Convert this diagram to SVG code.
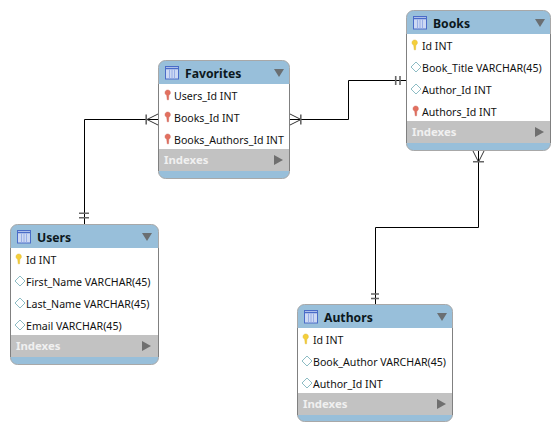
<svg xmlns="http://www.w3.org/2000/svg" width="560" height="432" viewBox="0 0 560 432">
<style>
text{font-family:"Noto Sans","DejaVu Sans",sans-serif}
.frame{fill:#98bfda;stroke:#a8a8a8;stroke-width:1}
.body{fill:#fff}
.idx{fill:#c2c2c2}
.side{stroke:#808080;stroke-width:1;fill:none}
.title{font-size:12.2px;font-weight:700;fill:#0c1820}
.row{font-size:10.6px;fill:#111}
.ix{font-size:11.4px;font-weight:700;fill:#f0f0f0}
.tri{fill:#6a6f72}
.tri2{fill:#6f6f6f}
.wire{fill:none;stroke:#000;stroke-width:1}
.bar{fill:none;stroke:#666;stroke-width:1.6}
.crow{fill:none;stroke:#333;stroke-width:1}
</style>
<defs>
<g id="tblicon"><rect x="0.500" y="0.500" width="13" height="12.500" fill="#cdd9f3" stroke="#4a6cc8"/><path d="M1 2.500h12" stroke="#4a6cc8" stroke-width="1.500"/><path d="M4.500 3.500v9M7 3.500v9M9.500 3.500v9" stroke="#98aee6"/></g>
<g id="keyY"><path d="M2.700 0C4.500 0 5.400 1.200 5.400 2.800 5.400 4 4.700 4.800 3.800 5.100L3.600 9.800H2.200L1.700 5.100C.8 4.800 0 4 0 2.800 0 1.200 1 0 2.700 0Z" fill="#f4cf3a" stroke="#d9ad20" stroke-width=".4"/></g>
<g id="keyR"><path d="M2.700 0C4.500 0 5.400 1.200 5.400 2.800 5.400 4 4.700 4.800 3.800 5.100L3.600 9.800H2.200L1.700 5.100C.8 4.800 0 4 0 2.800 0 1.200 1 0 2.700 0Z" fill="#e2705f" stroke="#c8584e" stroke-width=".4"/></g>
<path id="dia" d="M0 5 5 0 10 5 5 10Z" fill="#fff" stroke="#8dbcc4"/>
</defs>
<rect width="560" height="432" fill="#fff"/>
<g id="connectors">
<path class="wire" d="M158 119.500H84.500V224"/>
<path class="crow" d="M147 119.500 158 114M147 119.500 158 125"/>
<path class="bar" d="M146.200 114.500v10M79 213.300h10M79 217.700h10"/>
<path class="wire" d="M290 119.500H348.500V80.500H406"/>
<path class="crow" d="M301 119.500 290 114M301 119.500 290 125"/>
<path class="bar" d="M300.800 114.500v10M395.700 76v9M400 76v9"/>
<path class="wire" d="M478.500 151V227.500H375.500V304"/>
<path class="crow" d="M478.500 162 473 151M478.500 162 484 151"/>
<path class="bar" d="M473 161.800h11M371 294h8M371 298.500h8"/>
</g>
<g id="favorites">
<rect class="frame" x="158.500" y="60.500" width="131" height="118" rx="7"/>
<rect class="body" x="159" y="84" width="130" height="65"/>
<rect class="idx" x="159" y="149" width="130" height="22"/>
<path class="side" d="M158.500 84v87M289.500 84v87"/>
<use href="#tblicon" x="165" y="66"/>
<text class="title" x="185" y="78">Favorites</text>
<path class="tri" d="M274 69h10l-5 8Z"/>
<use href="#keyR" x="165" y="90"/><text class="row" x="174" y="100">Users_Id INT</text>
<use href="#keyR" x="165" y="112"/><text class="row" x="174" y="122">Books_Id INT</text>
<use href="#keyR" x="165" y="134"/><text class="row" x="174" y="144">Books_Authors_Id INT</text>
<text class="ix" x="164" y="164">Indexes</text>
<path class="tri2" d="M274 155l9 5-9 5Z"/>
</g>
<g id="books">
<rect class="frame" x="406.500" y="10.500" width="144" height="140" rx="7"/>
<rect class="body" x="407" y="34" width="143" height="87"/>
<rect class="idx" x="407" y="121" width="143" height="22"/>
<path class="side" d="M406.500 34v109M550.500 34v109"/>
<use href="#tblicon" x="413" y="16"/>
<text class="title" x="433" y="28">Books</text>
<path class="tri" d="M535 19h10l-5 8Z"/>
<use href="#keyY" x="412" y="40"/><text class="row" x="422" y="50">Id INT</text>
<use href="#dia" x="411" y="62"/><text class="row" x="422" y="72">Book_Title VARCHAR(45)</text>
<use href="#dia" x="411" y="84"/><text class="row" x="422" y="94">Author_Id INT</text>
<use href="#keyR" x="413" y="106"/><text class="row" x="422" y="116">Authors_Id INT</text>
<text class="ix" x="412" y="136">Indexes</text>
<path class="tri2" d="M535 127l9 5-9 5Z"/>
</g>
<g id="users">
<rect class="frame" x="10.500" y="224.500" width="148" height="140" rx="7"/>
<rect class="body" x="11" y="248" width="147" height="87"/>
<rect class="idx" x="11" y="335" width="147" height="22"/>
<path class="side" d="M10.500 248v109M158.500 248v109"/>
<use href="#tblicon" x="17" y="230"/>
<text class="title" x="37" y="242">Users</text>
<path class="tri" d="M142 233h10l-5 8Z"/>
<use href="#keyY" x="16" y="254"/><text class="row" x="26" y="264">Id INT</text>
<use href="#dia" x="15" y="276"/><text class="row" x="26" y="286">First_Name VARCHAR(45)</text>
<use href="#dia" x="15" y="298"/><text class="row" x="26" y="308">Last_Name VARCHAR(45)</text>
<use href="#dia" x="15" y="320"/><text class="row" x="26" y="330">Email VARCHAR(45)</text>
<text class="ix" x="16" y="350">Indexes</text>
<path class="tri2" d="M142 341l9 5-9 5Z"/>
</g>
<g id="authors">
<rect class="frame" x="297.500" y="304.500" width="155" height="117" rx="7"/>
<rect class="body" x="298" y="328" width="154" height="65"/>
<rect class="idx" x="298" y="393" width="154" height="22"/>
<path class="side" d="M297.500 328v87M452.500 328v87"/>
<use href="#tblicon" x="304" y="310"/>
<text class="title" x="324" y="322">Authors</text>
<path class="tri" d="M437 313h10l-5 8Z"/>
<use href="#keyY" x="303" y="334"/><text class="row" x="313" y="344">Id INT</text>
<use href="#dia" x="302" y="356"/><text class="row" x="313" y="366">Book_Author VARCHAR(45)</text>
<use href="#dia" x="302" y="378"/><text class="row" x="313" y="388">Author_Id INT</text>
<text class="ix" x="303" y="408">Indexes</text>
<path class="tri2" d="M437 399l9 5-9 5Z"/>
</g>
</svg>
